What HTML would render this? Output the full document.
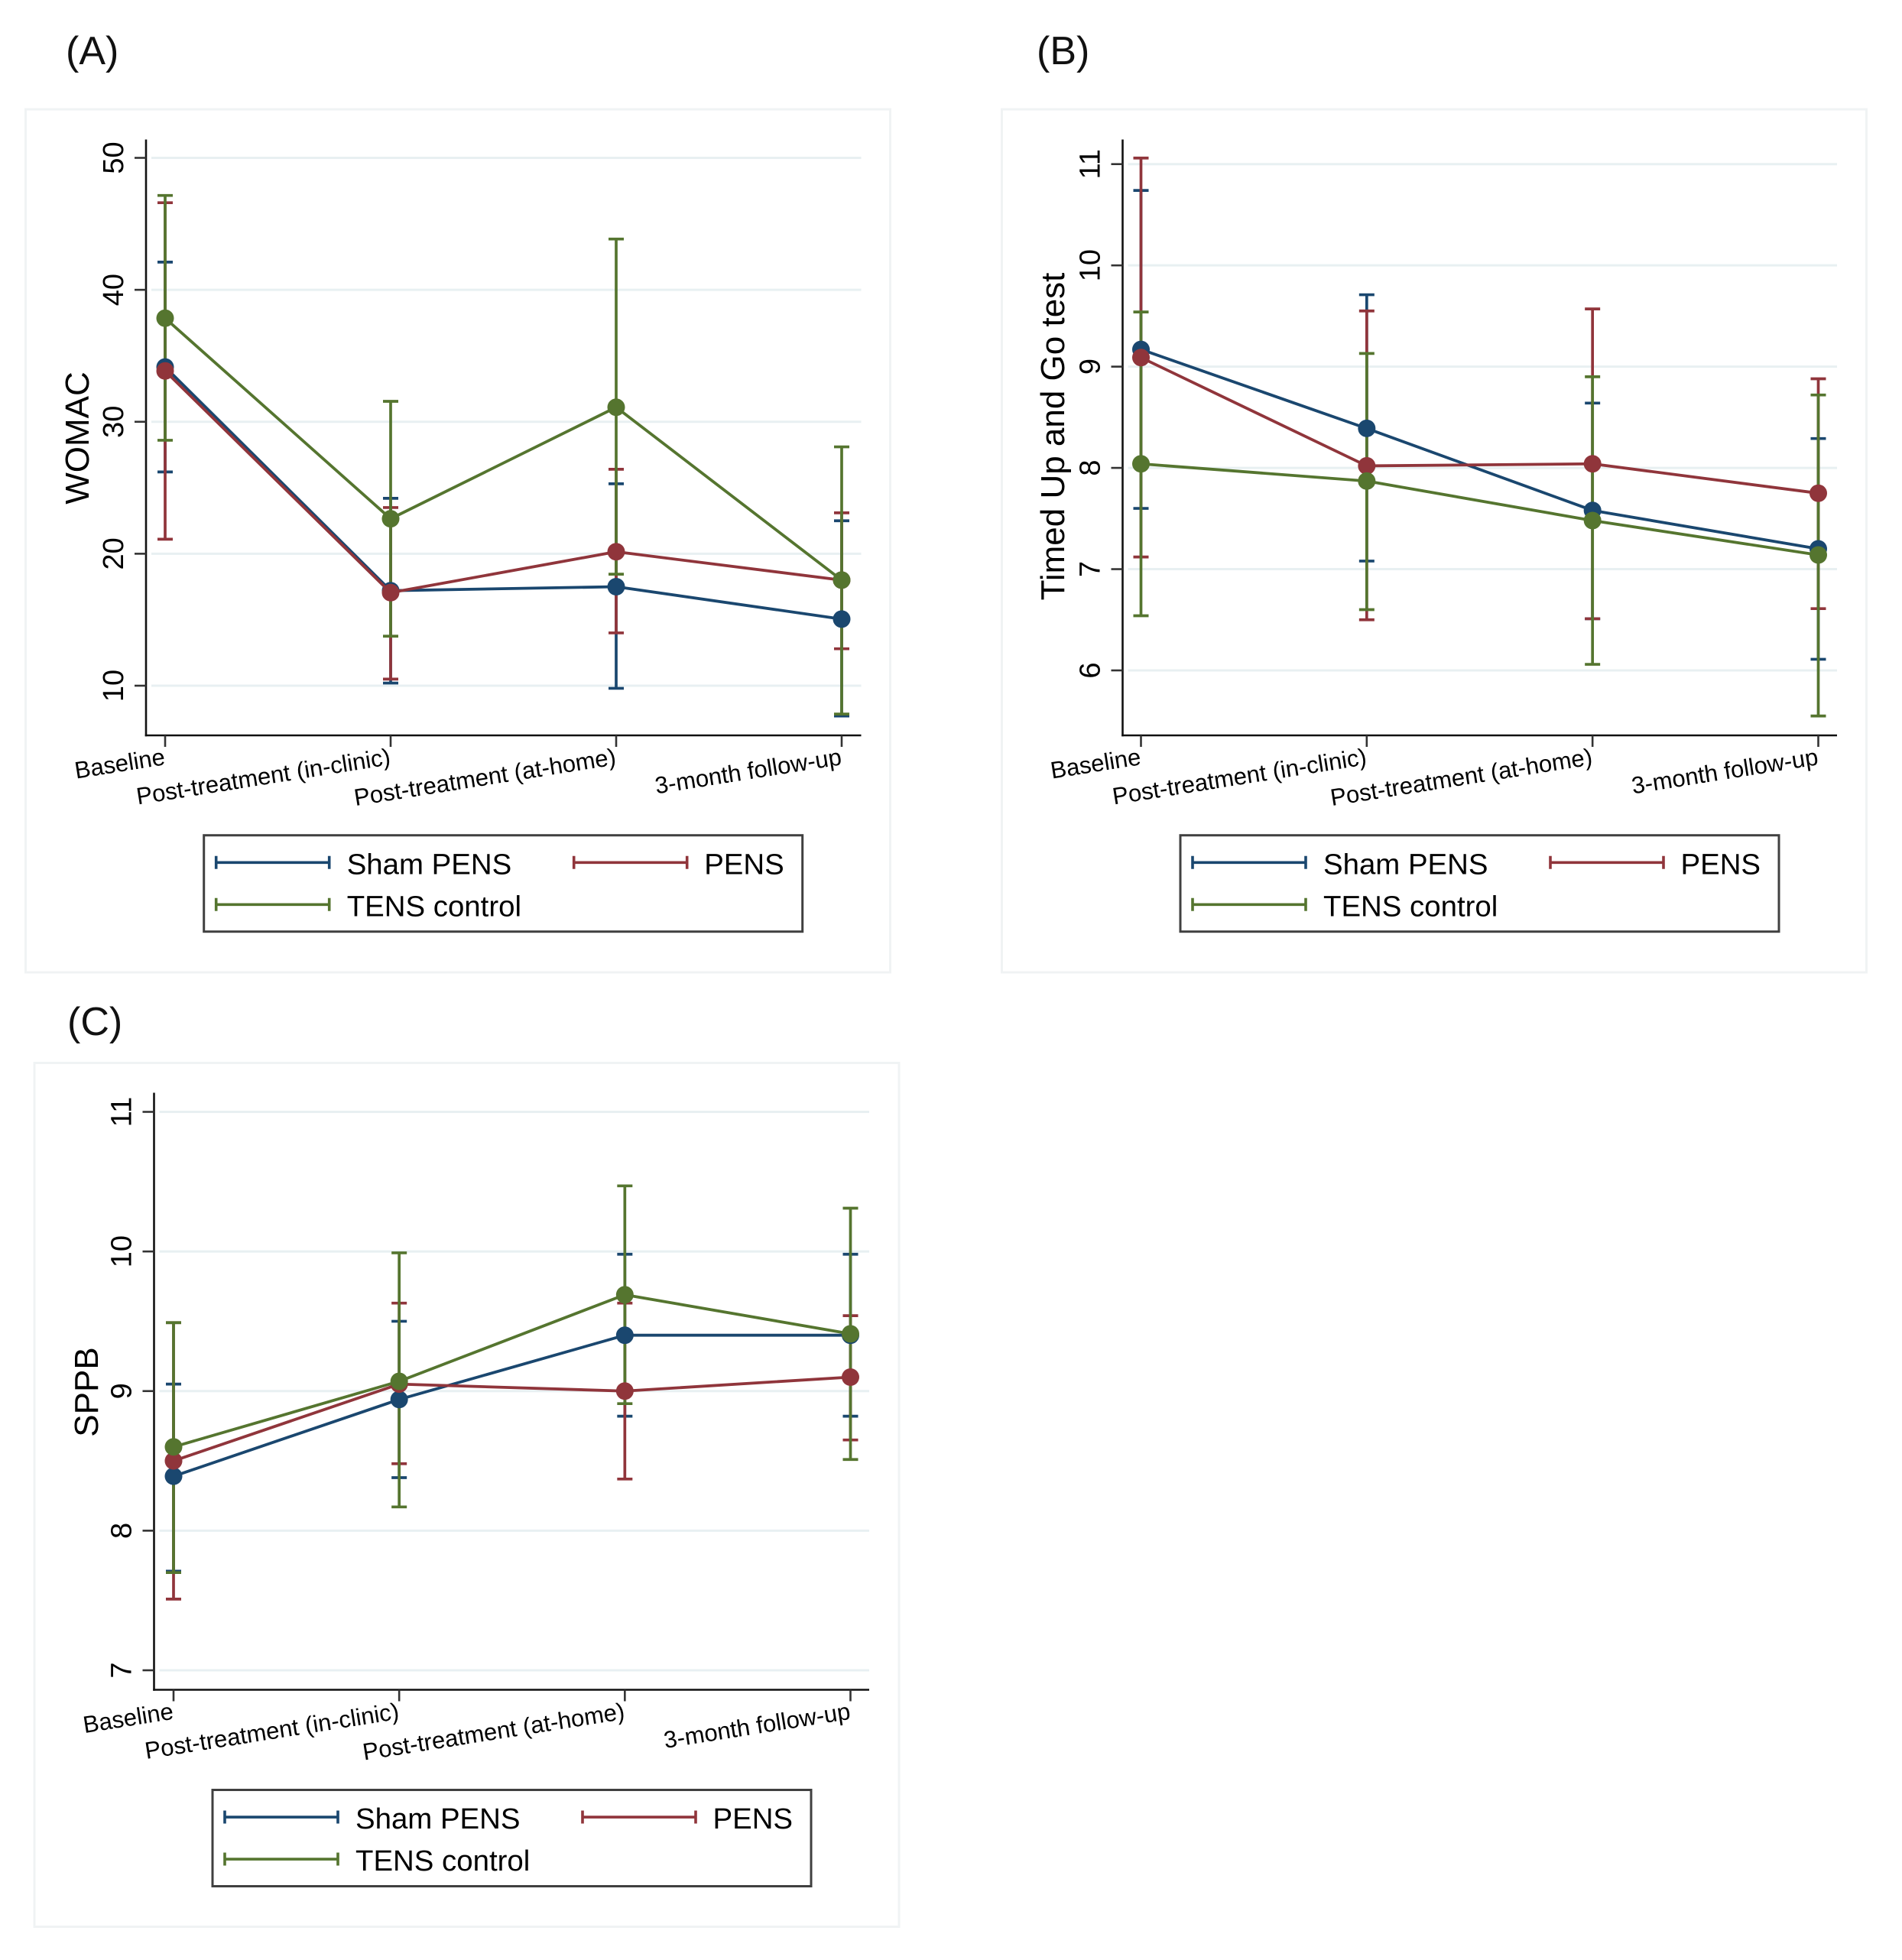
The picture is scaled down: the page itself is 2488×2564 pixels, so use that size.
<!DOCTYPE html>
<html lang="en">
<head>
<meta charset="utf-8">
<title>WOMAC, Timed Up and Go test and SPPB by group over time</title>
<style>
  html, body { margin: 0; padding: 0; background: #ffffff; }
  svg { display: block; font-family: "Liberation Sans", sans-serif; }
  .panel-frame { fill: #ffffff; stroke: #f0f3f4; stroke-width: 3; }
  .panel-label { font-size: 52px; fill: #111111; }
  .y-title { font-size: 44px; fill: #000000; text-anchor: middle; }
  .legend-box { fill: #ffffff; stroke: #404040; stroke-width: 3; }
  .legend-text { font-size: 38.4px; fill: #000000; }
  .sham { stroke: #1a476f; }
  .pens { stroke: #90353b; }
  .tens { stroke: #55752f; }
  .legend-line { stroke-width: 3.6; fill: none; }
</style>
</head>
<body>
<svg id="figure" xmlns="http://www.w3.org/2000/svg" width="2488" height="2564" viewBox="0 0 2488 2564">
  <rect x="0" y="0" width="2488" height="2564" fill="#ffffff"/>

  <text class="panel-label" x="86" y="84">(A)</text>
  <text class="panel-label" x="1356" y="84">(B)</text>
  <text class="panel-label" x="88" y="1354">(C)</text>

  <rect class="panel-frame" x="33.5" y="143" width="1131" height="1129"/>
  <rect class="panel-frame" x="1310.5" y="143" width="1131" height="1129"/>
  <rect class="panel-frame" x="45" y="1390.5" width="1131" height="1130"/>

  <text class="y-title" transform="translate(116 573) rotate(-90)">WOMAC</text>
  <text class="y-title" transform="translate(1392 571) rotate(-90)">Timed Up and Go test</text>
  <text class="y-title" transform="translate(128 1821) rotate(-90)">SPPB</text>

  <g id="panel-a"></g>
  <g id="panel-b"></g>
  <g id="panel-c"></g>

  <g transform="translate(266.7 1092.7)">
    <rect class="legend-box" x="0" y="0" width="783" height="126"/>
    <path class="legend-line sham" d="M16 27V44M16 35.6H164M164 27V44"/>
    <text class="legend-text" x="187" y="50.7">Sham PENS</text>
    <path class="legend-line pens" d="M484 27V44M484 35.6H632M632 27V44"/>
    <text class="legend-text" x="654.5" y="50.7">PENS</text>
    <path class="legend-line tens" d="M16 82V99M16 90.6H164M164 82V99"/>
    <text class="legend-text" x="187" y="105.7">TENS control</text>
  </g>
  <g transform="translate(1544 1092.7)">
    <rect class="legend-box" x="0" y="0" width="783" height="126"/>
    <path class="legend-line sham" d="M16 27V44M16 35.6H164M164 27V44"/>
    <text class="legend-text" x="187" y="50.7">Sham PENS</text>
    <path class="legend-line pens" d="M484 27V44M484 35.6H632M632 27V44"/>
    <text class="legend-text" x="654.5" y="50.7">PENS</text>
    <path class="legend-line tens" d="M16 82V99M16 90.6H164M164 82V99"/>
    <text class="legend-text" x="187" y="105.7">TENS control</text>
  </g>
  <g transform="translate(278 2341.5)">
    <rect class="legend-box" x="0" y="0" width="783" height="126"/>
    <path class="legend-line sham" d="M16 27V44M16 35.6H164M164 27V44"/>
    <text class="legend-text" x="187" y="50.7">Sham PENS</text>
    <path class="legend-line pens" d="M484 27V44M484 35.6H632M632 27V44"/>
    <text class="legend-text" x="654.5" y="50.7">PENS</text>
    <path class="legend-line tens" d="M16 82V99M16 90.6H164M164 82V99"/>
    <text class="legend-text" x="187" y="105.7">TENS control</text>
  </g>
</svg>

<script>
// Shared categories
const categories = ["Baseline", "Post-treatment (in-clinic)", "Post-treatment (at-home)", "3-month follow-up"];
const seriesKeys = ["sham-pens", "pens", "tens-control"];
const seriesColors = ["#1a476f", "#90353b", "#55752f"];

// Panel A: WOMAC
const womacTicks = [10, 20, 30, 40, 50];
const womacShamMean = [34.15, 17.2, 17.5, 15.05];
const womacShamUpper = [42.1, 24.2, 25.3, 22.5];
const womacShamLower = [26.2, 10.2, 9.8, 7.7];
const womacPensMean = [33.85, 17.05, 20.15, 18.0];
const womacPensUpper = [46.6, 23.5, 26.4, 23.1];
const womacPensLower = [21.1, 10.5, 14.0, 12.8];
const womacTensMean = [37.85, 22.65, 31.1, 18.0];
const womacTensUpper = [47.15, 31.55, 43.85, 28.1];
const womacTensLower = [28.6, 13.75, 18.45, 7.85];

// Panel B: Timed Up and Go test
const tugTicks = [6, 7, 8, 9, 10, 11];
const tugShamMean = [9.17, 8.39, 7.58, 7.2];
const tugShamUpper = [10.74, 9.71, 8.64, 8.29];
const tugShamLower = [7.6, 7.08, 6.51, 6.11];
const tugPensMean = [9.09, 8.02, 8.04, 7.75];
const tugPensUpper = [11.06, 9.55, 9.57, 8.88];
const tugPensLower = [7.12, 6.5, 6.51, 6.61];
const tugTensMean = [8.04, 7.87, 7.48, 7.14];
const tugTensUpper = [9.54, 9.13, 8.9, 8.72];
const tugTensLower = [6.54, 6.6, 6.06, 5.55];

// Panel C: SPPB
const sppbTicks = [7, 8, 9, 10, 11];
const sppbShamMean = [8.39, 8.94, 9.4, 9.4];
const sppbShamUpper = [9.05, 9.5, 9.98, 9.98];
const sppbShamLower = [7.71, 8.38, 8.82, 8.82];
const sppbPensMean = [8.5, 9.05, 9.0, 9.1];
const sppbPensUpper = [9.49, 9.63, 9.63, 9.54];
const sppbPensLower = [7.51, 8.48, 8.37, 8.65];
const sppbTensMean = [8.6, 9.07, 9.69, 9.41];
const sppbTensUpper = [9.49, 9.99, 10.47, 10.31];
const sppbTensLower = [7.7, 8.17, 8.91, 8.51];

const SVG_NS = "http://www.w3.org/2000/svg";

function make(parent, tag, attrs) {
  const node = document.createElementNS(SVG_NS, tag);
  for (const key in attrs) node.setAttribute(key, attrs[key]);
  parent.appendChild(node);
  return node;
}

function linearScale(d0, r0, d1, r1) {
  return function (v) { return r0 + (v - d0) * (r1 - r0) / (d1 - d0); };
}

function drawPanel(groupId, frame, ticks, means, uppers, lowers) {
  const group = document.getElementById(groupId);
  const xScale = linearScale(0, frame.x0, categories.length - 1, frame.x3);
  const yScale = linearScale(ticks[0], frame.yFirst, ticks[ticks.length - 1], frame.yLast);

  // Gridlines
  ticks.forEach(function (t) {
    const grid = make(group, "line", { x1: frame.axisX + 7, x2: frame.right, y1: yScale(t), y2: yScale(t), stroke: "#e8f0f2", "stroke-width": 3 });
    
    
  });

  // Axes
  const yAxis = make(group, "line", { x1: frame.axisX, x2: frame.axisX, y1: frame.top, y2: frame.bottom + 1.3, stroke: "#111111", "stroke-width": 2.6 });
  
  
  const xAxis = make(group, "line", { x1: frame.axisX - 1.3, x2: frame.right, y1: frame.bottom, y2: frame.bottom, stroke: "#111111", "stroke-width": 2.6 });
  
  

  // Y ticks and labels
  ticks.forEach(function (t) {
    const y = yScale(t);
    const mark = make(group, "line", { x1: frame.axisX - 15, x2: frame.axisX, y1: y, y2: y, stroke: "#333333", "stroke-width": 2.6 });
    
    
    const label = make(group, "text", { transform: "translate(" + (frame.axisX - 30) + " " + y + ") rotate(-90)", "text-anchor": "middle", "font-size": 38, fill: "#000000" });
    label.textContent = String(t);
    
    
  });

  // X ticks and labels
  categories.forEach(function (c, i) {
    const x = xScale(i);
    const mark = make(group, "line", { x1: x, x2: x, y1: frame.bottom, y2: frame.bottom + 15, stroke: "#333333", "stroke-width": 2.6 });
    
    
    const label = make(group, "text", { transform: "translate(" + (x + 1) + " " + (frame.bottom + 38) + ") rotate(-9)", "text-anchor": "end", "font-size": 31, fill: "#000000" });
    label.textContent = c;
    
    
  });

  // Confidence intervals sit beneath every line and marker
  seriesKeys.forEach(function (key, s) {
    categories.forEach(function (c, i) {
      const x = xScale(i);
      const yHi = yScale(uppers[s][i]);
      const yLo = yScale(lowers[s][i]);
      const path = "M" + x + " " + yHi + "V" + yLo + "M" + (x - 10) + " " + yHi + "H" + (x + 10) + "M" + (x - 10) + " " + yLo + "H" + (x + 10);
      const bar = make(group, "path", { d: path, fill: "none", stroke: seriesColors[s], "stroke-width": 3.7 });
      
      
    });
  });

  // Mean lines and markers
  seriesKeys.forEach(function (key, s) {
    const points = means[s].map(function (v, i) { return xScale(i) + "," + yScale(v); }).join(" ");
    const line = make(group, "polyline", { points: points, fill: "none", stroke: seriesColors[s], "stroke-width": 3.8, "stroke-linejoin": "round" });
    
    
    means[s].forEach(function (v, i) {
      const dot = make(group, "circle", { cx: xScale(i), cy: yScale(v), r: 11.5, fill: seriesColors[s] });
      
      
    });
  });
}

drawPanel("panel-a",
  { axisX: 191, right: 1126.5, top: 182.5, bottom: 962, x0: 216, x3: 1101, yFirst: 897, yLast: 206.5 },
  womacTicks,
  [womacShamMean, womacPensMean, womacTensMean],
  [womacShamUpper, womacPensUpper, womacTensUpper],
  [womacShamLower, womacPensLower, womacTensLower]);

drawPanel("panel-b",
  { axisX: 1468.5, right: 2403, top: 182.5, bottom: 962, x0: 1492.5, x3: 2378.5, yFirst: 877, yLast: 214.7 },
  tugTicks,
  [tugShamMean, tugPensMean, tugTensMean],
  [tugShamUpper, tugPensUpper, tugTensUpper],
  [tugShamLower, tugPensLower, tugTensLower]);

drawPanel("panel-c",
  { axisX: 201.5, right: 1137, top: 1429.5, bottom: 2210.5, x0: 227, x3: 1112.5, yFirst: 2185, yLast: 1454.5 },
  sppbTicks,
  [sppbShamMean, sppbPensMean, sppbTensMean],
  [sppbShamUpper, sppbPensUpper, sppbTensUpper],
  [sppbShamLower, sppbPensLower, sppbTensLower]);
</script>
</body>
</html>
